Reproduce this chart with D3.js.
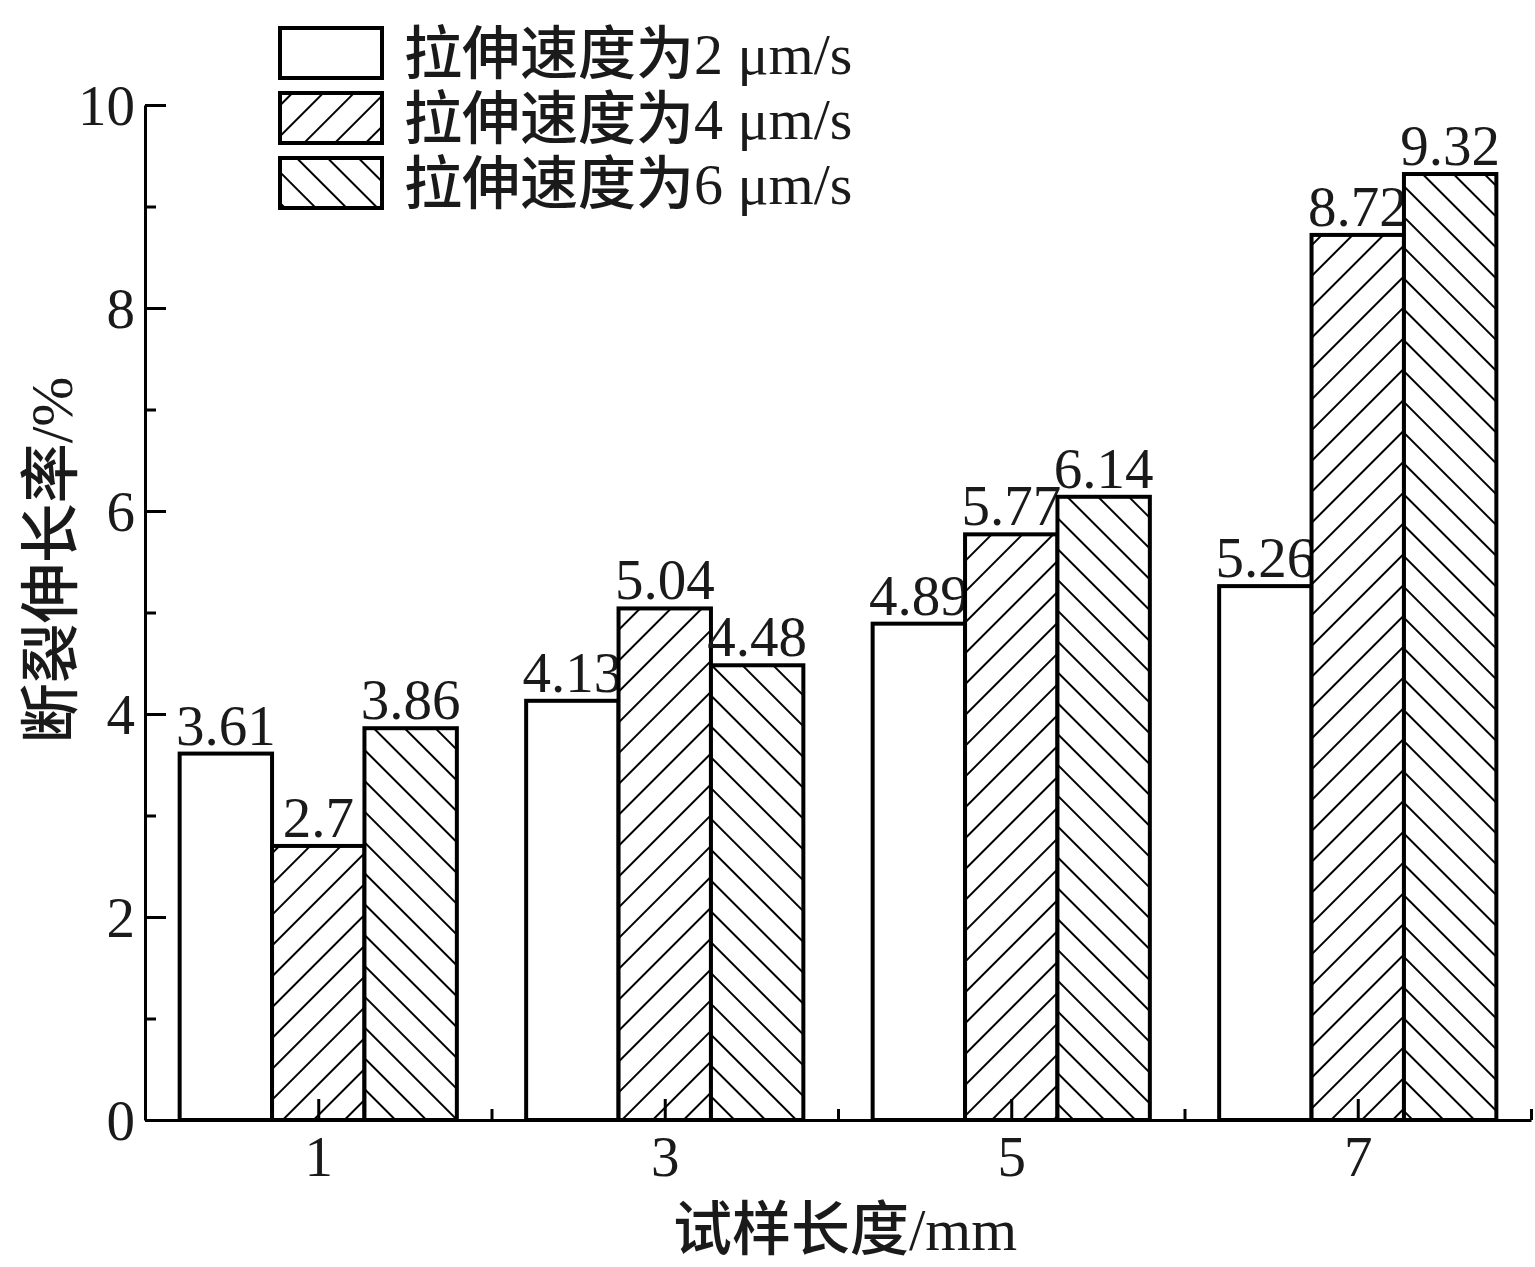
<!DOCTYPE html>
<html><head><meta charset="utf-8">
<script src="https://cdn.jsdelivr.net/npm/d3@7"></script>
<style>
body{margin:0;background:#fff;}
svg text{font-family:"Liberation Serif","Times New Roman","Noto Sans CJK SC",serif;fill:#1a1a1a;}
</style></head>
<body>
<svg id="c" width="1535" height="1267"></svg>
<script>
const categories = [1, 3, 5, 7];
const seriesNames = ["拉伸速度为2 μm/s", "拉伸速度为4 μm/s", "拉伸速度为6 μm/s"];
const speed2 = [3.61, 4.13, 4.89, 5.26];
const speed4 = [2.7, 5.04, 5.77, 8.72];
const speed6 = [3.86, 4.48, 6.14, 9.32];
const labels2 = ["3.61", "4.13", "4.89", "5.26"];
const labels4 = ["2.7", "5.04", "5.77", "8.72"];
const labels6 = ["3.86", "4.48", "6.14", "9.32"];
const yTicks = [0, 2, 4, 6, 8, 10];
const yMinor = [1, 3, 5, 7, 9];
const xTicks = [1, 3, 5, 7];
const xMinor = [2, 4, 6, 8];
const xTitle = "试样长度/mm";
const yTitle = "断裂伸长率/%";

const series = [
  {name: seriesNames[0], values: speed2, labels: labels2, fill: "#fff"},
  {name: seriesNames[1], values: speed4, labels: labels4, fill: "url(#hatchF)"},
  {name: seriesNames[2], values: speed6, labels: labels6, fill: "url(#hatchB)"}
];

const svg = d3.select("#c");
const x = d3.scaleLinear().domain([0, 8]).range([145, 1531]);
const y = d3.scaleLinear().domain([0, 10]).range([1120, 105]);
const bw = 1.6 / 3;

const defs = svg.append("defs");
[["hatchF", 45], ["hatchB", -45]].forEach(([id, ang]) => {
  const p = defs.append("pattern").attr("id", id).attr("patternUnits", "userSpaceOnUse")
    .attr("width", 21.8).attr("height", 21.8).attr("patternTransform", `rotate(${ang})`);
  p.append("rect").attr("width", 21.8).attr("height", 21.8).attr("fill", "#fff");
  p.append("line").attr("x1", 10.9).attr("x2", 10.9).attr("y1", -2).attr("y2", 24)
    .attr("stroke", "#000").attr("stroke-width", 2);
});

// bars
series.forEach((s, i) => {
  const g = svg.append("g");
  g.selectAll("rect").data(s.values).join("rect")
    .attr("x", (d, j) => x(categories[j] + (i - 1.5) * bw))
    .attr("width", x(bw) - x(0))
    .attr("y", d => y(d))
    .attr("height", d => y(0) - y(d))
    .attr("fill", s.fill).attr("stroke", "#000").attr("stroke-width", 4);
  g.selectAll("text").data(s.values).join("text")
    .attr("x", (d, j) => x(categories[j] + (i - 1) * bw))
    .attr("y", d => y(d) - 9)
    .attr("text-anchor", "middle").attr("font-size", 57)
    .text((d, j) => s.labels[j]);
});

// axes
function styleAxis(g) {
  g.selectAll("path.domain").attr("stroke", "#000").attr("stroke-width", 3);
  g.selectAll(".tick line").attr("stroke", "#000").attr("stroke-width", 3);
  g.selectAll(".tick text").attr("font-size", 57).attr("fill", "#1a1a1a")
    .attr("font-family", "Liberation Serif, serif");
}
const yAxis = svg.append("g").attr("transform", `translate(${x(0)},0)`)
  .call(d3.axisLeft(y).tickValues(yTicks).tickSize(-21).tickSizeOuter(0).tickPadding(10).tickFormat(d3.format("d")));
styleAxis(yAxis);
yAxis.selectAll(".tick text").attr("dy", "0.34em");
const yAxisMinor = svg.append("g").attr("transform", `translate(${x(0)},0)`)
  .call(d3.axisLeft(y).tickValues(yMinor).tickSize(-11).tickSizeOuter(0).tickFormat(""));
styleAxis(yAxisMinor);
yAxisMinor.select("path.domain").remove();

const xAxis = svg.append("g").attr("transform", `translate(0,${y(0)})`)
  .call(d3.axisBottom(x).tickValues(xTicks).tickSize(-21).tickSizeOuter(0).tickPadding(16).tickFormat(d3.format("d")));
styleAxis(xAxis);
xAxis.selectAll(".tick text").attr("dy", "0.71em");
const xAxisMinor = svg.append("g").attr("transform", `translate(0,${y(0)})`)
  .call(d3.axisBottom(x).tickValues(xMinor).tickSize(-11).tickSizeOuter(0).tickFormat(""));
styleAxis(xAxisMinor);
xAxisMinor.select("path.domain").remove();

// axis titles
svg.append("text").attr("x", 845).attr("y", 1250).attr("text-anchor", "middle")
  .attr("font-size", 59).attr("font-weight", 500).text(xTitle);
svg.append("text").attr("transform", "translate(72,560) rotate(-90)").attr("text-anchor", "middle")
  .attr("font-size", 60).attr("font-weight", 500).text(yTitle);

// legend
const leg = svg.append("g");
series.forEach((s, i) => {
  const yy = 28 + i * 65;
  leg.append("rect").attr("x", 280).attr("y", yy).attr("width", 102).attr("height", 50)
    .attr("fill", s.fill).attr("stroke", "#000").attr("stroke-width", 4);
  leg.append("text").attr("x", 404).attr("y", yy + 46).attr("font-size", 58)
    .attr("font-weight", 500).text(s.name);
});
</script>
</body></html>
